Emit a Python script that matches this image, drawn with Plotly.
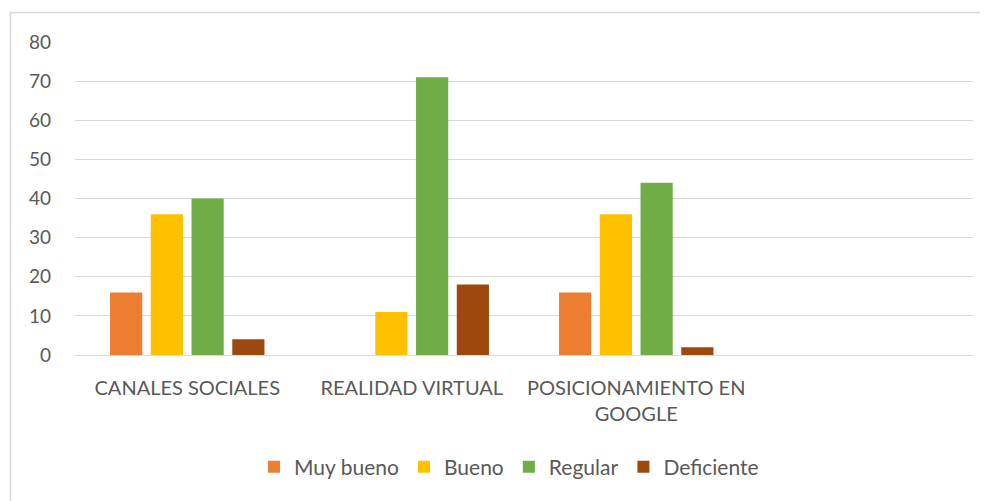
import plotly.graph_objects as go

categories = ["CANALES SOCIALES", "REALIDAD VIRTUAL", "POSICIONAMIENTO EN<br>GOOGLE", ""]
series_names = ["Muy bueno", "Bueno", "Regular", "Deficiente"]
muy_bueno = [16, 0, 16, None]
bueno = [36, 11, 36, None]
regular = [40, 71, 44, None]
deficiente = [4, 18, 2, None]
y_ticks = [0, 10, 20, 30, 40, 50, 60, 70, 80]

colors = ["#ED7D31", "#FFC000", "#70AD47", "#9E480E"]
values = [muy_bueno, bueno, regular, deficiente]
xpos = list(range(len(categories)))

fig = go.Figure()
for name, vals, col in zip(series_names, values, colors):
    fig.add_trace(go.Bar(x=xpos, y=vals, name=name, marker=dict(color=col, line=dict(width=0))))

OFF = 8  # page body margin
W, H = 980, 493
ml, mt = 75 - OFF, 42 - OFF
mr = W - (973 - OFF)
mb = H - (355 - OFF)
pw, ph = W - ml - mr, H - mt - mb

def px2x(px):
    return (px - OFF - ml) / pw

def py2y(py):
    return (H - mb - (py - OFF)) / ph

fig.update_layout(
    width=W, height=H,
    margin=dict(l=ml, r=mr, t=mt, b=mb),
    paper_bgcolor="white", plot_bgcolor="white",
    barmode="group", bargap=0.274, bargroupgap=0.21,
    font=dict(family="Lato, Open Sans, sans-serif", size=20, color="#595959"),
    showlegend=True,
    legend=dict(orientation="h", x=px2x(509), xanchor="center", y=py2y(467), yanchor="middle",
                font=dict(size=21, color="#595959"), itemwidth=30, traceorder="normal"),
    xaxis=dict(range=[-0.5, 3.5], tickmode="array", tickvals=xpos, ticktext=categories,
               showgrid=False, zeroline=False, showline=False, ticks="", fixedrange=True,
               ticklabelstandoff=19, tickfont=dict(size=20)),
    yaxis=dict(range=[0, 80], tickvals=y_ticks, showgrid=True, gridcolor="#D9D9D9", gridwidth=1,
               zeroline=True, zerolinecolor="#D9D9D9", zerolinewidth=1, showline=False,
               ticks="", ticklabelstandoff=23, tickfont=dict(size=19)),
    shapes=[dict(type="rect", xref="paper", yref="paper",
                 x0=px2x(10.5), x1=px2x(1010), y0=py2y(520), y1=py2y(12.5),
                 line=dict(color="#D9D9D9", width=1.5), fillcolor="rgba(0,0,0,0)", layer="below")],
)

fig.write_html("out.html")
